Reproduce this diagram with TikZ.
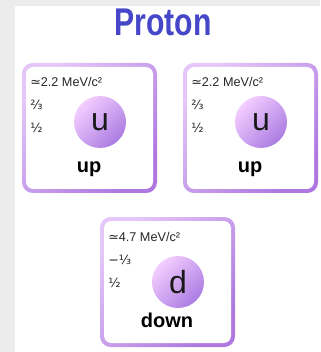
\documentclass[tikz,border=0pt]{standalone}
\usepackage{fontspec}
\setmainfont{Liberation Sans}
\newfontfamily\symfont{DejaVu Sans}
\definecolor{pagegray}{HTML}{ECECEC}
\definecolor{titleblue}{HTML}{4646C8}
\definecolor{ringlight}{HTML}{E4C6F8}
\definecolor{ringdark}{HTML}{AE78E0}
\definecolor{balllight}{HTML}{F3CEFF}
\definecolor{balldark}{HTML}{AC7CE2}
\tikzset{
  info/.style={anchor=base west, inner sep=0pt, font=\fontsize{9.5}{11}\selectfont, text=black!85},
  flavour/.style={anchor=base, inner sep=0pt, font=\fontsize{15}{18}\bfseries\selectfont},
  quark/.style={circle, inner sep=0pt, font=\fontsize{24}{28}\selectfont, text=black!90}
}
\begin{document}
\begin{tikzpicture}[x=0.75pt,y=-0.75pt]
  % page background
  \fill[pagegray] (0,0) rectangle (320,352);
  \fill[white] (15,6) rectangle (320,352);
  \useasboundingbox (0,0) rectangle (320,352);
  \node[anchor=base, inner sep=0pt, text=titleblue, font=\fontsize{29}{32}\bfseries\selectfont] (title) at (163,36) {\scalebox{0.78}[1]{Proton}};
  % one card per quark
  \foreach \bx/\by/\cy/\mass/\chg/\ltr/\nm [count=\i] in {22/63/59/2.2/{⅔}/u/up, 183/63/59/2.2/{⅔}/u/up, 100/217/65/4.7/{−⅓}/d/down}
  {
    \shade[top color=ringlight, bottom color=ringdark, shading angle=45, rounded corners=8pt] (\bx,\by) rectangle ++(135,130);
    \fill[white, rounded corners=5.5pt] (\bx+4,\by+4) rectangle ++(127,122);
    \shade[top color=balllight, bottom color=balldark, shading angle=45] (\bx+78,\by+\cy) circle (19.5pt);
    \node[quark] (q\i) at (\bx+78,\by+\cy) {\ltr};
    \node[info] (m\i) at (\bx+8,\by+24) {{\symfont ≃}\mass\ MeV/c²};
    \node[info] (c\i) at (\bx+8,\by+47) {\symfont\chg};
    \node[info] (s\i) at (\bx+8,\by+70) {\symfont ½};
    \node[flavour] (n\i) at (\bx+67,\by+110) {\nm};
  }
\end{tikzpicture}
\end{document}
